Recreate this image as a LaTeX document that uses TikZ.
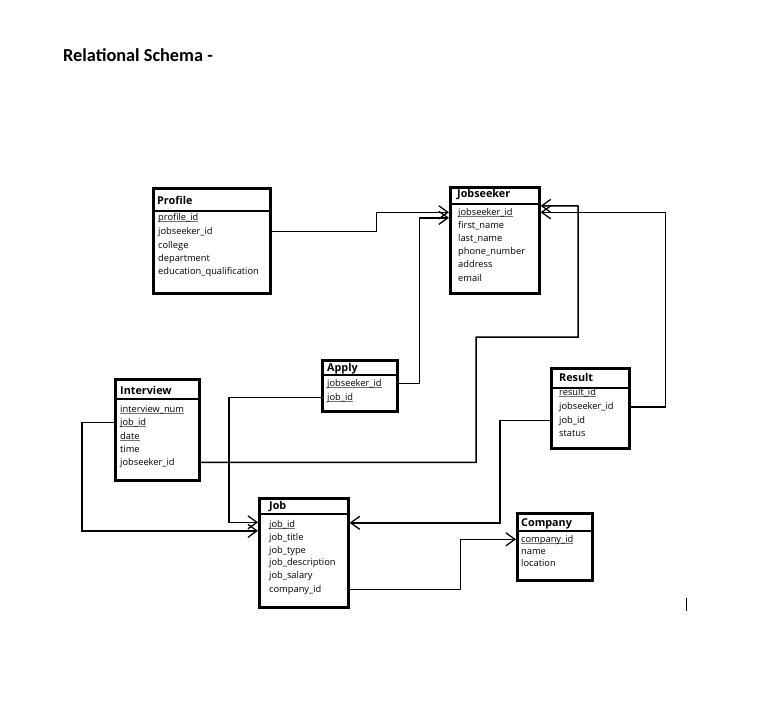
\documentclass[tikz,border=0pt]{standalone}
\usepackage{fontspec}
\setmainfont{Open Sans}
\newfontfamily\titlefont{Carlito}
\usetikzlibrary{arrows.meta}
\newcommand\chave[1]{\setbox0\hbox{#1}\rlap{\color{black!55}\rule[-1.2pt]{\wd0}{0.6pt}}\box0}	% key field
\tikzset{
	tabela/.style={draw, line width=2.6pt, anchor=north west, inner sep=0pt},
	divisa/.style={line width=1.4pt},
	cabeca/.style={anchor=base west, inner sep=0pt, font=\fontsize{10.8}{12}\selectfont\bfseries},
	campo/.style={anchor=base west, inner sep=0pt, font=\fontsize{9.3}{11}\selectfont},
	fk/.style={line width=1.5pt, -{Straight Barb[length=9pt,width=13pt,line width=1.3pt]}},
}
\begin{document}
\begin{tikzpicture}[x=1pt,y=-1pt]
	\useasboundingbox (0,0) rectangle (766,709);
	\node[anchor=base west, inner sep=0pt, font=\titlefont\fontsize{18.3}{20}\selectfont\bfseries] (title) at (63,62) {Relational Schema -};	% Title
	
	% Tables
	\node[tabela, minimum width=117pt, minimum height=105pt] (profile)   at (152,187) {};	% Profile
	\node[tabela, minimum width=89pt,  minimum height=106pt] (jobseeker) at (449,186) {};	% Jobseeker
	\node[tabela, minimum width=75pt,  minimum height=51pt]  (apply)     at (321,359) {};	% Apply
	\node[tabela, minimum width=84pt,  minimum height=101pt] (interview) at (114,378) {};	% Interview
	\node[tabela, minimum width=78pt,  minimum height=80pt]  (result)    at (550,367) {};	% Result
	\node[tabela, minimum width=89pt,  minimum height=109pt] (job)       at (258,497) {};	% Job
	\node[tabela, minimum width=75pt,  minimum height=67pt]  (company)   at (516,512) {};	% Company
	
	% Header lines
	\draw[divisa] ([yshift=-24pt]profile.north west)   -- ([yshift=-24pt]profile.north east);
	\draw[divisa] ([yshift=-18pt]jobseeker.north west) -- ([yshift=-18pt]jobseeker.north east);
	\draw[divisa] ([yshift=-16pt]apply.north west)     -- ([yshift=-16pt]apply.north east);
	\draw[divisa] ([yshift=-21pt]interview.north west) -- ([yshift=-21pt]interview.north east);
	\draw[divisa] ([yshift=-21pt]result.north west)    -- ([yshift=-21pt]result.north east);
	\draw[divisa] ([yshift=-17pt]job.north west)       -- ([yshift=-17pt]job.north east);
	\draw[divisa] ([yshift=-19pt]company.north west)   -- ([yshift=-19pt]company.north east);
	
	% Profile
	\node[cabeca] (pr0) at (157,204) {Profile};
	\node[campo]  (pr1) at (158,220) {\chave{profile\_id}};
	\node[campo]  (pr2) at (158,234) {jobseeker\_id};
	\node[campo]  (pr3) at (158,248) {college};
	\node[campo]  (pr4) at (158,261) {department};
	\node[campo]  (pr5) at (158,274) {education\_qualification};
	
	% Jobseeker
	\node[cabeca] (js0) at (457,197) {Jobseeker};
	\node[campo]  (js1) at (458,215) {\chave{jobseeker\_id}};
	\node[campo]  (js2) at (458,228) {first\_name};
	\node[campo]  (js3) at (458,241) {last\_name};
	\node[campo]  (js4) at (458,254) {phone\_number};
	\node[campo]  (js5) at (458,267) {address};
	\node[campo]  (js6) at (458,281) {email};
	
	% Apply
	\node[cabeca] (ap0) at (327,371) {Apply};
	\node[campo]  (ap1) at (327,386) {\chave{jobseeker\_id}};
	\node[campo]  (ap2) at (327,400) {\chave{job\_id}};
	
	% Interview
	\node[cabeca] (iv0) at (120,394) {Interview};
	\node[campo]  (iv1) at (120,412) {\chave{interview\_num}};
	\node[campo]  (iv2) at (120,425) {\chave{job\_id}};
	\node[campo]  (iv3) at (120,439) {\chave{date}};
	\node[campo]  (iv4) at (120,452) {time};
	\node[campo]  (iv5) at (120,465) {jobseeker\_id};
	
	% Result
	\node[cabeca] (rs0) at (559,381) {Result};
	\node[campo]  (rs1) at (559,395.5) {\chave{result\_id}};
	\node[campo]  (rs2) at (559,409.5) {jobseeker\_id};
	\node[campo]  (rs3) at (559,423) {job\_id};
	\node[campo]  (rs4) at (559,436) {status};
	
	% Job
	\node[cabeca] (jb0) at (269,509) {Job};
	\node[campo]  (jb1) at (269,527) {\chave{job\_id}};
	\node[campo]  (jb2) at (269,540) {job\_title};
	\node[campo]  (jb3) at (269,553) {job\_type};
	\node[campo]  (jb4) at (269,565.5) {job\_description};
	\node[campo]  (jb5) at (269,578) {job\_salary};
	\node[campo]  (jb6) at (269,592) {company\_id};
	
	% Company
	\node[cabeca] (cp0) at (521,526) {Company};
	\node[campo]  (cp1) at (521,542) {\chave{company\_id}};
	\node[campo]  (cp2) at (521,554) {name};
	\node[campo]  (cp3) at (521,566) {location};
	
	% Connectors
	\draw[fk] (profile.east |- pr2.mid) -- ++(105,0) |- (jobseeker.west |- js1.mid);
	\draw[fk] (apply.east |- ap1.mid) -- ++(21,0) |- ([yshift=-5.5pt]jobseeker.west |- js1.mid);
	\draw[fk] (apply.west |- ap2.mid) -- ++(-92,0) |- ([yshift=2pt]job.west |- jb1.mid);
	\draw[fk] (interview.west |- iv2.mid) -- ++(-32,0) |- ([yshift=-6.5pt]job.west |- jb1.mid);
	\draw[fk] (interview.east |- iv5.mid) -| (476,337) -| (578,206) -- ([yshift=6.5pt]jobseeker.east |- js1.mid);
	\draw[fk] (result.east |- rs2.mid) -- ++(35,0) |- (jobseeker.east |- js1.mid);
	\draw[fk] (result.west |- rs3.mid) -- ++(-50,0) |- ([yshift=1.5pt]job.east |- jb1.mid);
	\draw[fk] (job.east |- jb6.mid) -- ++(111,0) |- (company.west |- cp1.mid);
	
	\draw[line width=1pt] (686,598) -- (686,611);	% cursor
\end{tikzpicture}
\end{document}
